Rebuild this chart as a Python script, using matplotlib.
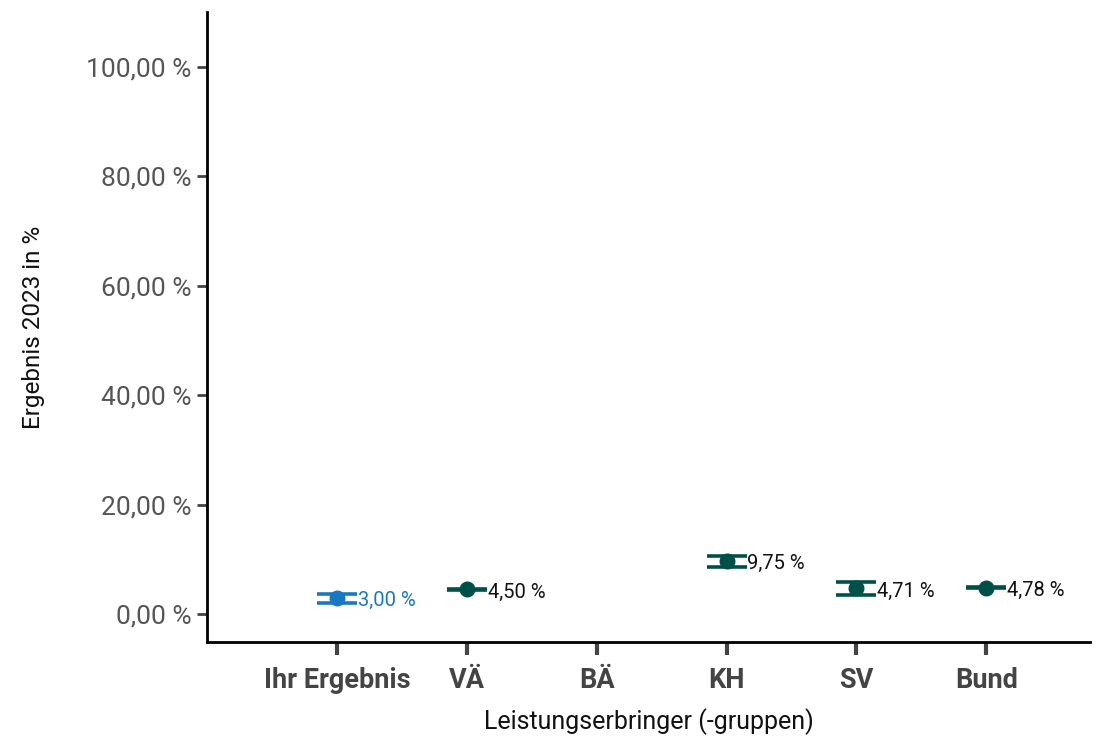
import numpy as np
import matplotlib.pyplot as plt

# data
groups = ['Ihr Ergebnis', 'VÄ', 'BÄ', 'KH', 'SV', 'Bund']
values = [3.00, 4.50, np.nan, 9.75, 4.71, 4.78]
ci_low = [2.10, 4.40, np.nan, 8.55, 3.47, 4.68]
ci_high = [3.65, 4.60, np.nan, 10.65, 5.90, 4.88]
labels = ['3,00 %', '4,50 %', '', '9,75 %', '4,71 %', '4,78 %']

blue = '#1a78c2'
green = '#00504a'
colors = [blue, green, green, green, green, green]
text_colors = [blue, '#111111', '#111111', '#111111', '#111111', '#111111']

plt.rcParams['font.family'] = ['Roboto', 'DejaVu Sans']

fig = plt.figure(figsize=(11.04, 7.36), dpi=100)
ax = fig.add_axes([0.1875, 0.1277, 0.8, 0.856])

x = np.arange(len(groups))
for i in range(len(groups)):
    if np.isnan(values[i]):
        continue
    err = [[values[i] - ci_low[i]], [ci_high[i] - values[i]]]
    ax.errorbar(x[i], values[i], yerr=err, fmt='o', color=colors[i],
                markersize=10.5, elinewidth=2.2, capsize=14.5, capthick=2.6, zorder=3)
    ax.annotate(labels[i], (x[i], values[i]), xytext=(15, -2), textcoords='offset points',
                ha='left', va='center', fontsize=14.5, color=text_colors[i])

ax.set_xlim(-1, 5.8)
ax.set_ylim(-5.1, 110)
ax.set_xticks(x)
ax.set_xticklabels(groups, fontsize=19.5, fontweight='bold', color='#444444')
yt = [0, 20, 40, 60, 80, 100]
ax.set_yticks(yt)
ax.set_yticklabels(['%d,00 %%' % v for v in yt], fontsize=19, color='#555555')

ax.tick_params(axis='x', length=9, width=3, color='#444444', pad=9, direction='out')
ax.tick_params(axis='y', length=7, width=2, color='#444444', pad=4)
ax.spines['top'].set_visible(False)
ax.spines['right'].set_visible(False)
ax.spines['left'].set_linewidth(2)
ax.spines['bottom'].set_linewidth(2)

ax.set_xlabel('Leistungserbringer (-gruppen)', fontsize=18, color='#111111', labelpad=10)
ax.set_ylabel('Ergebnis 2023 in %', fontsize=17.5, color='#111111', labelpad=30)

fig.savefig('out.png', dpi=100)
